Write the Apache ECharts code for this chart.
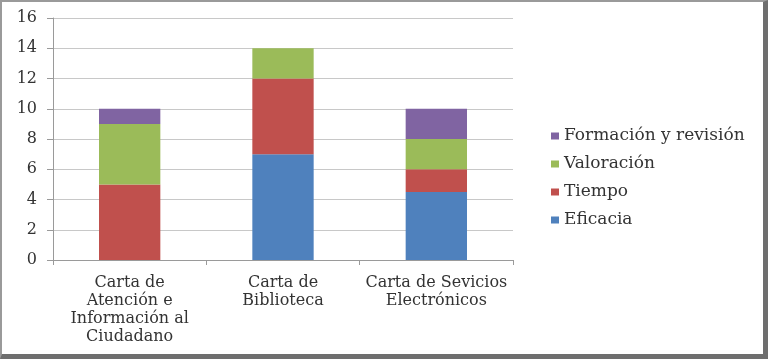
<!DOCTYPE html>
<html>
<head>
<meta charset="utf-8">
<script src="https://cdn.jsdelivr.net/npm/echarts@6/dist/echarts.min.js"></script>
<style>
  html, body { margin: 0; padding: 0; background: #fff; }
  #frame {
    position: absolute; left: 0; top: 0; width: 768px; height: 359px;
    box-sizing: border-box;
    border-top: 2px solid #9a9a9a; border-left: 2px solid #9a9a9a;
    border-right: 5px solid #6e6e6e; border-bottom: 5px solid #6e6e6e;
  }
  #chart { position: absolute; left: 0; top: 0; width: 768px; height: 359px; }
</style>
</head>
<body>
<div id="chart"></div>
<div id="frame"></div>
<script>
var categories = [
  'Carta de\nAtención e\nInformación al\nCiudadano',
  'Carta de\nBiblioteca',
  'Carta de Sevicios\nElectrónicos'
]
var eficacia = [0, 7, 4.5]
var tiempo = [5, 5, 1.5]
var valoracion = [4, 2, 2]
var formacion = [1, 0, 2]
var legendOrder = ['Formación y revisión', 'Valoración', 'Tiempo', 'Eficacia']

var chart = echarts.init(document.getElementById('chart'))
var font = '"DejaVu Serif", "Liberation Serif", serif'

function bar(name, data, color) {
  return {
    name: name,
    type: 'bar',
    stack: 'total',
    barWidth: '40%',
    itemStyle: { color: color },
    data: data
  }
}

chart.setOption({
  animation: false,
  grid: {
    left: 53,
    right: 255,
    top: 18,
    bottom: 99
  },
  legend: {
    orient: 'vertical',
    left: 546,
    top: 122,
    itemWidth: 8,
    itemHeight: 7,
    itemGap: 10,
    icon: 'rect',
    data: legendOrder,
    textStyle: {
      fontFamily: font,
      fontSize: 17,
      lineHeight: 18,
      color: '#333'
    }
  },
  xAxis: {
    type: 'category',
    data: categories,
    axisLine: { lineStyle: { color: '#9a9a9a' } },
    axisTick: { show: true, length: 5, lineStyle: { color: '#9a9a9a' } },
    axisLabel: {
      interval: 0,
      margin: 14,
      fontFamily: font,
      fontSize: 16,
      lineHeight: 18,
      color: '#333'
    }
  },
  yAxis: {
    type: 'value',
    min: 0,
    max: 16,
    interval: 2,
    axisLine: { show: true, lineStyle: { color: '#9a9a9a' } },
    axisTick: { show: true, length: 6, lineStyle: { color: '#9a9a9a' } },
    splitLine: { lineStyle: { color: '#c8c8c8' } },
    axisLabel: {
      margin: 16,
      fontFamily: font,
      fontSize: 16,
      color: '#333'
    }
  },
  series: [
    bar('Eficacia', eficacia, '#4F81BD'),
    bar('Tiempo', tiempo, '#C0504D'),
    bar('Valoración', valoracion, '#9BBB59'),
    bar('Formación y revisión', formacion, '#8064A2')
  ]
})
</script>
</body>
</html>
